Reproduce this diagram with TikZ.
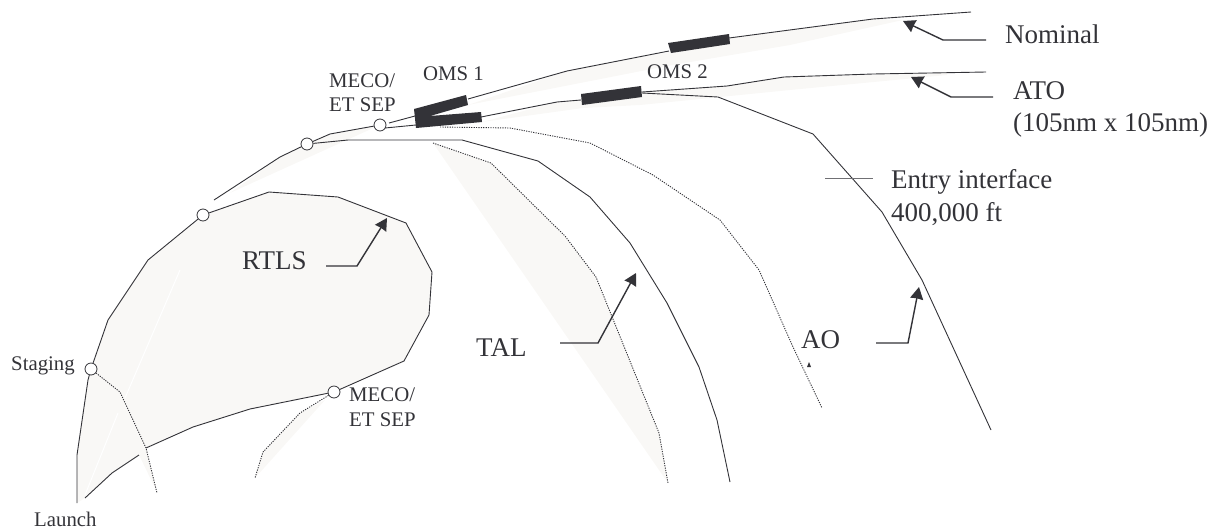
\documentclass[tikz,border=0pt]{standalone}
\usepackage{fontspec}
\setmainfont{Liberation Serif}
\usetikzlibrary{arrows.meta}
\definecolor{inkgray}{HTML}{333338}
\definecolor{shade}{HTML}{F9F8F6}
\tikzset{
    path/.style={draw=inkgray, line width=0.9pt},
    coast/.style={draw=inkgray, line width=0.9pt, dash pattern=on 1.2pt off 1.2pt},
    burn/.style={fill=inkgray, draw=none},
    pad/.style={fill=shade, draw=none},
    event/.style={circle, draw=inkgray, fill=white, line width=0.8pt, minimum size=12pt, inner sep=0pt},
    callout/.style={draw=inkgray, line width=1.4pt, -{Stealth[length=12pt,width=13pt,inset=0.5pt]}},
    biglabel/.style={anchor=base west, inner sep=0pt, text=inkgray, font=\fontsize{27}{27}\selectfont},
    smalllabel/.style={anchor=base west, inner sep=0pt, text=inkgray, font=\fontsize{20.8}{20.8}\selectfont}
}
\begin{document}
\begin{tikzpicture}[x=1pt,y=-1pt]
    \useasboundingbox (0,0) rectangle (1219,531);
    % shaded areas
    \fill[pad] (77,503) -- (77,455) -- (88,380) -- (108,320) -- (148,260) -- (203,215) -- (269,192) -- (338,197) -- (406,223) -- (432,272) -- (429,315) -- (404,361) -- (334,392) -- (250,409) -- (193,427) -- (146,448) -- (139,455) -- (112,473) -- (85,498) -- cycle;
    \fill[pad] (139,455) -- (146,448) -- (157,492) -- cycle;
    \fill[pad] (255,478) -- (263,452) -- (300,413) -- (325,400) -- cycle;
    \fill[pad] (230,193) -- (280,157) -- (330,134) -- (380,125) -- cycle;
    \fill[pad] (433,143) -- (491,163) -- (565,236) -- (596,277) -- (659,433) -- (668,483) -- cycle;
    \fill[pad] (468,105) -- (567,71) -- (669,52) -- (729,38) -- (873,19) -- (903,20) -- (790,45) -- (667,66) -- cycle;
    \fill[pad] (482,122) -- (557,102) -- (642,92) -- (726,86) -- (784,77) -- (947,73) -- (947,75) -- (790,90) -- (700,99) -- (640,105) -- (583,108) -- cycle;
    \draw[white, line width=1pt] (85,495) -- (118,413);
    \draw[white, line width=1pt] (125,398) -- (180,270);
    % events
    \node[event] (staging) at (91,369) {};
    \node[event] (rtlsturn) at (203,215) {};
    \node[event] (mecolow) at (334,392) {};
    \node[event] (ascent) at (307,144) {};
    \node[event] (mecohigh) at (380,125) {};
    \coordinate (launch) at (77,503);
    \coordinate (tailrtls) at (85,498);
    \coordinate (tailasc) at (214,200);
    % trajectories
    \draw[path] (launch) -- (77,455) -- (88,380) -- (staging);
    \draw[path] (staging) -- (108,320) -- (148,260) -- (rtlsturn);
    \draw[path] (rtlsturn) -- (269,192) -- (338,197) -- (406,223) -- (432,272) -- (429,315) -- (404,361) -- (mecolow);
    \draw[path] (mecolow) -- (250,409) -- (193,427) -- (146,448);
    \draw[path] (139,455) -- (112,473) -- (tailrtls);
    \draw[path] (tailasc) -- (280,157) -- (ascent);
    \draw[path] (ascent) -- (330,134) -- (mecohigh);
    \draw[path] (389,123) -- (415,116);
    \draw[path] (385,128) -- (416,125);
    \draw[path] (468,99) -- (567,71) -- (669,51);
    \draw[path] (729,38) -- (873,19) -- (971,12);
    \draw[path] (481,117) -- (557,102) -- (581,100);
    \draw[path] (642,92) -- (727,86) -- (784,77) -- (873,74) -- (986,72);
    \draw[path] (642,93) -- (718,97) -- (813,134) -- (882,212) -- (922,280) -- (991,430);
    \draw[path] (ascent) -- (348,140) -- (462,140) -- (538,161) -- (590,197) -- (630,243) -- (667,303) -- (699,367) -- (717,420) -- (730,482);
    \draw[coast] (staging) -- (120,392) -- (146,448) -- (157,493);
    \draw[coast] (mecolow) -- (300,413) -- (263,452) -- (255,478);
    \draw[coast] (440,127) -- (510,128) -- (590,143) -- (653,175) -- (720,220) -- (759,270) -- (793,347) -- (822,408);
    \draw[coast] (433,143) -- (491,163) -- (565,236) -- (596,277) -- (659,433) -- (668,483);
    \draw[inkgray!70, line width=0.9pt] (825,178) -- (873,178);
    % burns
    \fill[burn] (414,109) -- (466,95) -- (468,105) -- (430,116) -- (481,112) -- (482,122) -- (416,128) -- cycle;
    \fill[burn] (581,94) -- (641,86) -- (642,97) -- (582,105) -- cycle;
    \fill[burn] (668,43) -- (729,34) -- (730,44) -- (671,53) -- cycle;
    \fill[burn] (807,367) -- (809,362) -- (811,367) -- cycle;
    % callouts
    \coordinate (rtlsfoot) at (326,266);
    \coordinate (rtlstip) at (387,218);
    \coordinate (talfoot) at (560,343);
    \coordinate (taltip) at (636,273);
    \coordinate (aofoot) at (876,343);
    \coordinate (aotip) at (919,287);
    \coordinate (nomfoot) at (986,40);
    \coordinate (nomtip) at (903,21);
    \coordinate (atofoot) at (993,97);
    \coordinate (atotip) at (911,77);
    \draw[callout] (rtlsfoot) -- (357,266) -- (rtlstip);
    \draw[callout] (talfoot) -- (598,343) -- (taltip);
    \draw[callout] (aofoot) -- (908,343) -- (aotip);
    \draw[callout] (nomfoot) -- (943,40) -- (nomtip);
    \draw[callout] (atofoot) -- (951,97) -- (atotip);
    % labels
    \node[biglabel] (nominal) at (1005,43) {Nominal};
    \node[biglabel] (ato) at (1013,99) {ATO};
    \node[biglabel] (orbit) at (1013,131) {(105nm x 105nm)};
    \node[biglabel] (entry) at (891,188) {Entry interface};
    \node[biglabel] (alt) at (891,221) {400,000 ft};
    \node[biglabel] (rtls) at (242,269) {RTLS};
    \node[biglabel] (tal) at (476,356) {TAL};
    \node[biglabel] (ao) at (801,348) {AO};
    \node[smalllabel] (oms1) at (423,80) {OMS 1};
    \node[smalllabel] (oms2) at (647,78) {OMS 2};
    \node[smalllabel] (meco1) at (329,87) {MECO/};
    \node[smalllabel] (sep1) at (329,111) {ET SEP};
    \node[smalllabel] (meco2) at (349,401) {MECO/};
    \node[smalllabel] (sep2) at (349,426) {ET SEP};
    \node[smalllabel] (launchtext) at (34,526) {Launch};
    \node[smalllabel] (stagingtext) at (11,370) {Staging};
\end{tikzpicture}
\end{document}
